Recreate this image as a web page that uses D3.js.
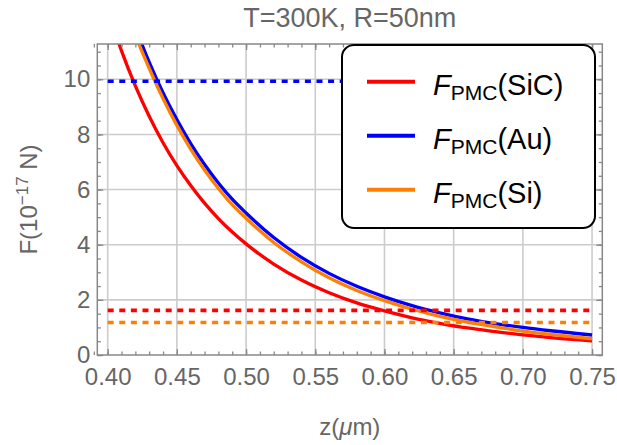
<!DOCTYPE html>
<html>
<head>
<meta charset="utf-8">
<script src="https://cdn.jsdelivr.net/npm/d3@7"></script>
<style>
  body { margin: 0; background: #fff; }
  text { font-family: "Liberation Sans", Arial, sans-serif; }
</style>
</head>
<body>
<div id="chart"></div>
<script>
// z in micrometres, F in units of 1e-17 N
const zValues = [0.40, 0.41, 0.42, 0.43, 0.44, 0.45, 0.46, 0.47, 0.48, 0.49, 0.50,
  0.52, 0.54, 0.56, 0.58, 0.60, 0.62, 0.64, 0.66, 0.68, 0.70, 0.72, 0.75];
const sicValues = [12.5, 11.03, 9.76, 8.66, 7.70, 6.87, 6.15, 5.51, 4.95, 4.46, 4.03,
  3.30, 2.72, 2.26, 1.89, 1.60, 1.35, 1.15, 0.98, 0.85, 0.73, 0.63, 0.51];
const auValues = [15.1, 13.4, 11.9, 10.62, 9.51, 8.54, 7.67, 6.91, 6.24, 5.65, 5.15,
  4.26, 3.54, 2.96, 2.49, 2.11, 1.79, 1.53, 1.31, 1.14, 1.00, 0.88, 0.725];
const siValues = [14.6, 13.0, 11.6, 10.4, 9.3, 8.33, 7.47, 6.71, 6.04, 5.45, 4.96,
  4.08, 3.38, 2.80, 2.34, 1.97, 1.66, 1.40, 1.19, 1.02, 0.87, 0.75, 0.59];

// horizontal reference levels
const sicLevel = 1.62;
const auLevel = 9.93;
const siLevel = 1.18;

const materials = ['SiC', 'Au', 'Si'];
const colors = ['#ff0000', '#0000ff', '#ff8000'];

const xTicks = [0.40, 0.45, 0.50, 0.55, 0.60, 0.65, 0.70, 0.75];
const yTicks = [0, 2, 4, 6, 8, 10];

const width = 617, height = 445;
const plotLeft = 97.3, plotRight = 602.3, plotTop = 44, plotBottom = 355;

const x = d3.scaleLinear().domain([0.3925, 0.7574]).range([plotLeft, plotRight]);
const y = d3.scaleLinear().domain([0, 11.28]).range([plotBottom, plotTop]);

const svg = d3.select('#chart').append('svg')
  .attr('width', width)
  .attr('height', height);

svg.append('defs').append('clipPath').attr('id', 'plot-clip')
  .append('rect')
  .attr('x', plotLeft).attr('y', plotTop)
  .attr('width', plotRight - plotLeft).attr('height', plotBottom - plotTop);

// Grid
const grid = svg.append('g').attr('stroke', '#cccccc').attr('stroke-width', 1.6);
grid.selectAll('.vg').data(xTicks).enter().append('line')
  .attr('x1', d => x(d)).attr('x2', d => x(d))
  .attr('y1', plotTop).attr('y2', plotBottom);
grid.selectAll('.hg').data(yTicks.filter(d => d > 0)).enter().append('line')
  .attr('x1', plotLeft).attr('x2', plotRight)
  .attr('y1', d => y(d)).attr('y2', d => y(d));

// Curves
const series = [sicValues, auValues, siValues];
const line = d3.line()
  .x((d, i) => x(zValues[i]))
  .y(d => y(d))
  .curve(d3.curveMonotoneX);

const plot = svg.append('g').attr('clip-path', 'url(#plot-clip)');
series.forEach((vals, k) => {
  plot.append('path')
    .datum(vals)
    .attr('fill', 'none')
    .attr('stroke', colors[k])
    .attr('stroke-width', 3.3)
    .attr('d', line);
});

// Dashed levels
[sicLevel, auLevel, siLevel].forEach((v, k) => {
  plot.append('line')
    .attr('x1', x(0.40)).attr('x2', x(0.75))
    .attr('y1', y(v)).attr('y2', y(v))
    .attr('stroke', colors[k])
    .attr('stroke-width', 3.6)
    .attr('stroke-dasharray', '6,5.6');
});

// Frame with ticks on all sides
const frameColor = '#888888';
const labelColor = '#666666';

function styleAxis(g) {
  g.select('.domain').remove();
  g.selectAll('line').attr('stroke', frameColor).attr('stroke-width', 1.3);
  g.selectAll('text').attr('fill', labelColor).style('font-size', '24px');
}

const xMinor = d3.range(39, 76).map(d => d / 100);
const yMinor = d3.range(0, 23).map(d => d / 2);

svg.append('g').attr('transform', `translate(0,${plotBottom})`)
  .call(d3.axisBottom(x).tickValues(xMinor).tickSize(-3.5).tickFormat(''))
  .call(styleAxis);
svg.append('g').attr('transform', `translate(0,${plotBottom})`)
  .call(d3.axisBottom(x).tickValues(xTicks).tickSize(-6).tickPadding(13).tickFormat(d3.format('.2f')))
  .call(styleAxis);
svg.append('g').attr('transform', `translate(0,${plotTop})`)
  .call(d3.axisTop(x).tickValues(xMinor).tickSize(-3.5).tickFormat(''))
  .call(styleAxis);
svg.append('g').attr('transform', `translate(0,${plotTop})`)
  .call(d3.axisTop(x).tickValues(xTicks).tickSize(-6).tickFormat(''))
  .call(styleAxis);

svg.append('g').attr('transform', `translate(${plotLeft},0)`)
  .call(d3.axisLeft(y).tickValues(yMinor).tickSize(-3.5).tickFormat(''))
  .call(styleAxis);
svg.append('g').attr('transform', `translate(${plotLeft},0)`)
  .call(d3.axisLeft(y).tickValues(yTicks).tickSize(-6).tickPadding(7))
  .call(styleAxis);
svg.append('g').attr('transform', `translate(${plotRight},0)`)
  .call(d3.axisRight(y).tickValues(yMinor).tickSize(-3.5).tickFormat(''))
  .call(styleAxis);
svg.append('g').attr('transform', `translate(${plotRight},0)`)
  .call(d3.axisRight(y).tickValues(yTicks).tickSize(-6).tickFormat(''))
  .call(styleAxis);

svg.append('rect')
  .attr('x', plotLeft).attr('y', plotTop)
  .attr('width', plotRight - plotLeft).attr('height', plotBottom - plotTop)
  .attr('fill', 'none')
  .attr('stroke', frameColor)
  .attr('stroke-width', 1.5);

// Title and axis labels
svg.append('text')
  .attr('x', (plotLeft + plotRight) / 2).attr('y', 27)
  .attr('text-anchor', 'middle')
  .attr('fill', labelColor)
  .style('font-size', '27px')
  .text('T=300K, R=50nm');

const xl = svg.append('text')
  .attr('x', (plotLeft + plotRight) / 2).attr('y', 435)
  .attr('text-anchor', 'middle')
  .attr('fill', labelColor)
  .style('font-size', '24px');
xl.append('tspan').text('z(');
xl.append('tspan').attr('font-style', 'italic').text('μ');
xl.append('tspan').text('m)');

const yl = svg.append('text')
  .attr('transform', `translate(37,${(plotTop + plotBottom) / 2}) rotate(-90)`)
  .attr('text-anchor', 'middle')
  .attr('fill', labelColor)
  .style('font-size', '24px');
yl.append('tspan').text('F(10');
yl.append('tspan').attr('dy', -9).style('font-size', '17px').text('−17');
yl.append('tspan').attr('dy', 9).text(' N)');

// Legend
const legend = svg.append('g');
legend.append('rect')
  .attr('x', 342).attr('y', 45)
  .attr('width', 253).attr('height', 183)
  .attr('rx', 12)
  .attr('fill', '#fff')
  .attr('stroke', '#000')
  .attr('stroke-width', 2);

materials.forEach((m, k) => {
  const ly = 81.7 + k * 54;
  legend.append('line')
    .attr('x1', 367).attr('x2', 415)
    .attr('y1', ly).attr('y2', ly)
    .attr('stroke', colors[k])
    .attr('stroke-width', 4);
  const t = legend.append('text')
    .attr('x', 433).attr('y', ly + 13)
    .attr('fill', '#000')
    .style('font-size', '29px');
  t.append('tspan').attr('font-style', 'italic').text('F');
  t.append('tspan').attr('dy', 5).style('font-size', '21px').text('PMC');
  t.append('tspan').attr('dy', -5).text(`(${m})`);
});
</script>
</body>
</html>
